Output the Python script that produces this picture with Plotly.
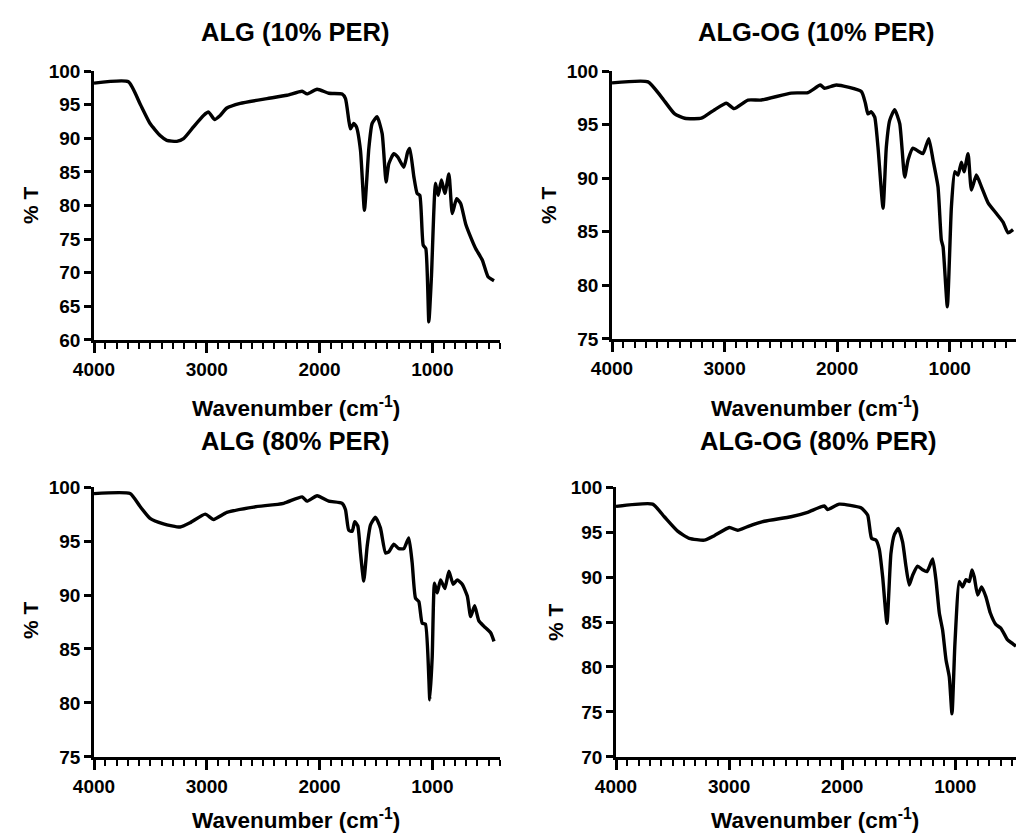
import plotly.graph_objects as go

# ---------------- data ----------------
wn_alg10 = [4000, 3695, 3591, 3503, 3414, 3355, 3266, 3206, 3118, 3029, 2984, 2931, 2881, 2822, 2703,
            2466, 2289, 2155, 2111, 2022, 1918, 1800, 1770, 1741, 1726, 1697, 1673, 1637, 1602, 1563,
            1534, 1490, 1445, 1410, 1386, 1342, 1306, 1253, 1218, 1200, 1164, 1135, 1111, 1081, 1058,
            1031, 1008, 972, 948, 919, 889, 853, 823, 785, 749, 705, 660, 616, 557, 506, 453]
t_alg10 = [98.2, 98.4, 95.1, 92.2, 90.4, 89.7, 89.55, 89.95, 91.7, 93.4, 93.9, 92.8, 93.4, 94.5, 95.2,
           95.9, 96.4, 97.0, 96.6, 97.3, 96.7, 96.6, 95.9, 92.7, 91.4, 92.2, 91.7, 88.2, 79.3, 88.5,
           92.2, 93.2, 90.7, 83.5, 86.2, 87.7, 87.2, 85.7, 88.0, 88.5, 84.3, 81.8, 81.5, 74.1, 73.6,
           62.7, 69.4, 83.3, 81.5, 83.8, 81.8, 84.7, 78.8, 81.0, 80.3, 77.3, 75.3, 73.6, 71.9, 69.4, 68.8]

wn_og10 = [4000, 3680, 3562, 3443, 3354, 3206, 3088, 2984, 2916, 2792, 2673, 2407, 2259, 2149, 2111,
           2007, 1785, 1749, 1726, 1696, 1666, 1637, 1592, 1563, 1533, 1489, 1444, 1400, 1370, 1326,
           1275, 1237, 1186, 1148, 1104, 1074, 1059, 1021, 985, 955, 926, 896, 873, 837, 807, 763,
           718, 659, 585, 526, 482, 437]
t_og10 = [98.9, 99.0, 97.6, 96.0, 95.6, 95.6, 96.4, 97.0, 96.5, 97.3, 97.3, 97.95, 98.0, 98.7, 98.4,
          98.7, 98.1, 97.0, 96.0, 96.2, 95.7, 92.9, 87.2, 92.9, 95.4, 96.4, 95.1, 90.1, 91.7, 92.8,
          92.5, 92.3, 93.7, 91.7, 89.2, 84.2, 83.6, 78.0, 87.3, 90.6, 90.3, 91.5, 90.6, 92.3, 88.9, 90.3,
          89.2, 87.7, 86.7, 85.9, 84.9, 85.2]

wn_alg80 = [4000, 3680, 3591, 3503, 3384, 3236, 3147, 3014, 2940, 2822, 2585, 2318, 2155, 2111, 2022,
            1918, 1800, 1770, 1741, 1711, 1688, 1661, 1637, 1608, 1578, 1548, 1504, 1460, 1415, 1386,
            1342, 1297, 1253, 1209, 1179, 1149, 1120, 1090, 1061, 1022, 1001, 981, 957, 927, 889,
            853, 815, 779, 735, 690, 660, 625, 587, 542, 483, 453]
t_alg80 = [99.4, 99.4, 98.2, 97.1, 96.6, 96.3, 96.7, 97.5, 97.0, 97.65, 98.15, 98.5, 99.1, 98.7, 99.2,
           98.7, 98.5, 97.9, 96.0, 95.9, 96.8, 96.4, 93.9, 91.3, 94.5, 96.5, 97.2, 96.2, 93.9, 94.0,
           94.7, 94.3, 94.3, 95.3, 93.0, 89.7, 89.4, 87.4, 87.3, 80.3, 84.3, 91.1, 90.2, 91.4, 90.6,
           92.2, 91.0, 91.4, 91.0, 89.9, 88.0, 89.0, 87.6, 87.1, 86.5, 85.7]

wn_og80 = [4000, 3676, 3573, 3455, 3352, 3219, 3131, 2998, 2924, 2836, 2689, 2453, 2306, 2158, 2129,
           2026, 1834, 1775, 1740, 1701, 1672, 1642, 1604, 1569, 1539, 1504, 1466, 1436, 1407, 1377,
           1333, 1289, 1250, 1200, 1171, 1141, 1112, 1082, 1053, 1029, 1003, 964, 935, 905, 876,
           852, 832, 802, 767, 729, 690, 640, 596, 537, 493, 463]
t_og80 = [97.85, 98.1, 96.7, 95.1, 94.3, 94.1, 94.6, 95.5, 95.2, 95.6, 96.2, 96.7, 97.2, 97.9, 97.5,
          98.1, 97.7, 96.9, 94.3, 94.1, 93.1, 90.0, 84.85, 92.6, 94.7, 95.4, 93.9, 91.2, 89.1, 90.2,
          91.2, 90.8, 90.6, 92.0, 89.7, 86.0, 84.1, 80.8, 78.9, 74.8, 82.6, 89.5, 88.9, 89.7, 89.5,
          90.8, 90.0, 88.0, 88.9, 87.8, 86.0, 84.7, 84.3, 83.0, 82.6, 82.3]

titles = ["ALG (10% PER)", "ALG-OG (10% PER)", "ALG (80% PER)", "ALG-OG (80% PER)"]
x_title = "Wavenumber (cm<sup>-1</sup>)"
y_title = "% T"
y_ranges = [(60, 100), (75, 100), (75, 100), (70, 100)]
x_ends = [400, 411, 400, 463]

# ---------------- layout helpers ----------------
W, H = 1016, 834
def px(x):
    return x / W
def py(y):
    return 1 - y / H

# panel pixel boxes: (left, right, top, bottom)
boxes = [(94, 500, 71, 340), (612, 1016, 71, 339), (94, 500, 487, 757), (616, 1016, 487, 757)]
series = [(wn_alg10, t_alg10), (wn_og10, t_og10), (wn_alg80, t_alg80), (wn_og80, t_og80)]

FONT = "Liberation Sans, Arial, sans-serif"
fig = go.Figure()
layout = dict(
    template="none",
    width=W, height=H, margin=dict(l=0, r=0, t=0, b=0, pad=0, autoexpand=False),
    paper_bgcolor="white", plot_bgcolor="white", showlegend=False,
    font=dict(family=FONT, color="black"),
)
annotations = []
for i, ((l, r, t, b), (wx, ty)) in enumerate(zip(boxes, series)):
    n = "" if i == 0 else str(i + 1)
    fig.add_trace(go.Scatter(
        x=wx, y=ty, mode="lines", xaxis="x" + n, yaxis="y" + n,
        line=dict(color="black", width=3.4, shape="spline", smoothing=0.5),
        hoverinfo="skip",
    ))
    lo, hi = y_ranges[i]
    layout["xaxis" + n] = dict(
        domain=[px(l), px(r)], anchor="y" + n, range=[4000, x_ends[i]], automargin=False,
        tickmode="linear", tick0=4000, dtick=1000, ticks="outside", ticklen=10, tickwidth=2.5,
        tickcolor="black", showline=True, linecolor="black", linewidth=2.5,
        showgrid=False, zeroline=False,
        tickfont=dict(size=19, family=FONT, color="black", weight="bold"),
        minor=dict(dtick=100, tick0=4000, ticks="outside", ticklen=6, tickwidth=2, tickcolor="black", showgrid=False),
    )
    layout["yaxis" + n] = dict(
        domain=[py(b), py(t)], anchor="x" + n, range=[lo - 0.01, hi + 0.01], automargin=False,
        tickmode="linear", tick0=lo, dtick=5, ticks="outside", ticklen=7, tickwidth=2.5,
        tickcolor="black", showline=True, linecolor="black", linewidth=2.5,
        showgrid=False, zeroline=False,
        tickfont=dict(size=19, family=FONT, color="black", weight="bold"),
    )

title_pos = [(295, 32), (816, 32), (295, 441), (818, 441)]
xt_pos = [(296, 407), (815, 407), (296, 819), (815, 819)]
yt_pos = [(30, 205), (548, 205), (30, 620), (555, 622)]
for i in range(4):
    annotations.append(dict(text=titles[i], x=px(title_pos[i][0]), y=py(title_pos[i][1]),
                            xref="paper", yref="paper", xanchor="center", yanchor="middle",
                            showarrow=False, font=dict(size=25.5, family=FONT, color="black", weight="bold")))
    annotations.append(dict(text=x_title, x=px(xt_pos[i][0]), y=py(xt_pos[i][1]),
                            xref="paper", yref="paper", xanchor="center", yanchor="middle",
                            showarrow=False, font=dict(size=22.5, family=FONT, color="black", weight="bold")))
    annotations.append(dict(text=y_title, x=px(yt_pos[i][0]), y=py(yt_pos[i][1]), textangle=-90,
                            xref="paper", yref="paper", xanchor="center", yanchor="middle",
                            showarrow=False, font=dict(size=21, family=FONT, color="black", weight="bold")))
layout["annotations"] = annotations
fig.update_layout(**layout)
fig.write_html("out.html", config={"displayModeBar": False},
               post_script="document.body.style.margin='0';document.body.style.overflow='hidden';")
